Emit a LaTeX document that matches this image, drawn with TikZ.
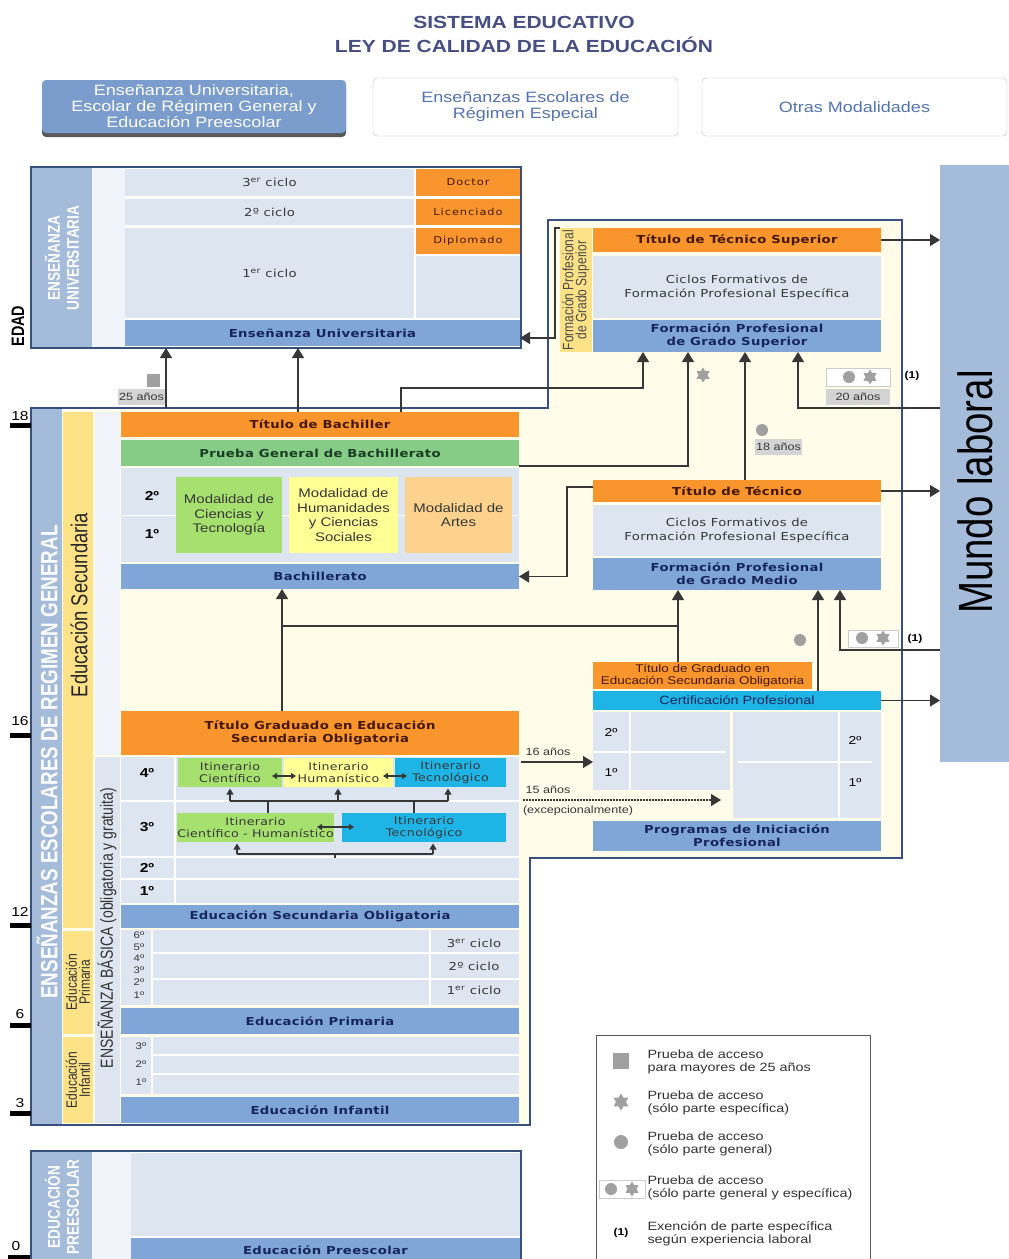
\documentclass[tikz,border=0pt]{standalone}
\usepackage{fontspec}
\setmainfont{Liberation Sans}
\newfontfamily\lsH{Liberation Sans}[FakeStretch=1.2]
\newfontfamily\lsV{Liberation Sans}[FakeStretch=0.8]
\newfontfamily\dvH{DejaVu Sans}[FakeStretch=1.2,LetterSpace=3]
\newfontfamily\dvW{DejaVu Sans}[FakeStretch=1.2,LetterSpace=10]
\usetikzlibrary{arrows.meta,shapes.geometric}

\definecolor{orng}{RGB}{248,150,45}
\definecolor{barb}{RGB}{128,166,216}
\definecolor{pnl}{RGB}{221,230,240}
\definecolor{strp}{RGB}{165,187,218}
\definecolor{yel}{RGB}{253,226,135}
\definecolor{crm}{RGB}{255,252,234}
\definecolor{grnA}{RGB}{134,204,134}
\definecolor{grnB}{RGB}{166,224,110}
\definecolor{yelB}{RGB}{255,255,150}
\definecolor{orB}{RGB}{252,210,140}
\definecolor{cyn}{RGB}{30,180,230}
\definecolor{nvy}{RGB}{22,38,90}
\definecolor{bord}{RGB}{55,80,125}
\definecolor{arr}{RGB}{55,55,55}
\definecolor{mk}{RGB}{160,160,160}
\definecolor{lite}{RGB}{240,244,250}
\definecolor{tabb}{RGB}{122,157,205}
\definecolor{tabtxt}{RGB}{85,115,175}
\definecolor{ttl}{RGB}{70,78,130}
\definecolor{brn}{RGB}{70,22,0}
\definecolor{grntxt}{RGB}{25,60,35}
\definecolor{gtx}{RGB}{55,55,55}

\newcommand\tkTitle{\lsH\bfseries\fontsize{17.5}{24}\selectfont}
\newcommand\tkTab{\lsH\fontsize{15}{16}\selectfont}
\newcommand\tkBar{\dvH\bfseries\fontsize{11}{13}\selectfont}
\newcommand\tkPan{\dvH\fontsize{11}{14}\selectfont}
\newcommand\tkCell{\dvW\fontsize{9.5}{11}\selectfont}
\newcommand\tkMod{\lsH\fontsize{12.5}{14.5}\selectfont}
\newcommand\tkIti{\dvH\fontsize{10.5}{11.5}\selectfont}
\newcommand\tkNum{\lsH\bfseries\fontsize{13}{15}\selectfont}
\newcommand\tkNumR{\lsH\fontsize{11.5}{13}\selectfont}
\newcommand\tkTiny{\lsH\fontsize{9.5}{10}\selectfont}
\newcommand\tkSm{\lsH\fontsize{10.5}{12}\selectfont}
\newcommand\tkGr{\lsH\fontsize{11.2}{12.5}\selectfont}
\newcommand\tkCp{\lsH\fontsize{12}{13}\selectfont}
\newcommand\tkLeg{\lsH\fontsize{12}{13}\selectfont}
\newcommand\tkAge{\lsH\fontsize{13}{14}\selectfont}
\newcommand\tkOne{\lsH\bfseries\fontsize{10}{11}\selectfont}
\newcommand\tkVgen{\lsV\bfseries\fontsize{23.5}{26}\selectfont}
\newcommand\tkVsec{\lsV\fontsize{23}{24}\selectfont}
\newcommand\tkVcap{\lsV\bfseries\fontsize{17}{19}\selectfont}
\newcommand\tkVsm{\lsV\fontsize{15}{13}\selectfont}
\newcommand\tkVbas{\lsV\fontsize{17.5}{18}\selectfont}
\newcommand\tkVml{\lsV\fontsize{48}{50}\selectfont}
\newcommand\tkVedad{\lsV\bfseries\fontsize{18}{18}\selectfont}
\newcommand\tkVfp{\lsV\fontsize{15}{13}\selectfont}

\newcommand{\mybox}[7]{\node[#2,inner sep=0pt,outer sep=0pt,minimum width={(#5-#3)*1pt},minimum height={(#6-#4)*1pt}] (#1) at ({(#3+#5)/2},{(#4+#6)/2}) {#7};}

\tikzset{
  bar/.style={fill=barb,text=nvy,font=\tkBar,align=center},
  ttlbox/.style={fill=orng,text=brn,font=\tkBar,align=center},
  pan/.style={fill=pnl,text=gtx,font=\tkPan,align=center},
  cell/.style={fill=orng,text=brn,font=\tkCell},
  modbox/.style={text=gtx,font=\tkMod,align=center},
  itibox/.style={text=gtx,font=\tkIti,align=center},
  con/.style={draw=arr,line width=1.2pt,-{Triangle[length=10pt,width=12pt]}},
  lin/.style={draw=arr,line width=1.2pt},
  sml/.style={draw=arr,line width=1.1pt,-{Triangle[length=6pt,width=7pt]},shorten >=1.5pt},
  dbl/.style={draw=arr,line width=1.1pt,{Triangle[length=5pt,width=6pt]}-{Triangle[length=5pt,width=6pt]}},
  stm/.style={star,star points=6,star point ratio=1.7,fill=mk,minimum size=15pt,inner sep=0pt},
  mdot/.style={circle,fill=mk,minimum size=12pt,inner sep=0pt},
  lbl/.style={font=\tkSm,text=gtx},
  legt/.style={anchor=west,align=left,font=\tkLeg,text=black!80},
  vtxt/.style={rotate=90,align=center},
  sep/.style={white,line width=1.5pt}
}

\begin{document}
\begin{tikzpicture}[x=1pt,y=-1pt]
\path[use as bounding box] (0,0) rectangle (1009,1259);
\fill[white] (0,0) rectangle (1009,1259);

% title
\node[font=\tkTitle,text=ttl,align=center] (title) at (524,34) {SISTEMA EDUCATIVO\\LEY DE CALIDAD DE LA EDUCACIÓN};

% tabs
\fill[black!65,rounded corners=4pt] (42,84) rectangle (346,137);
\mybox{tabA}{fill=tabb,rounded corners=4pt,text=white,font=\tkTab,align=center}{42}{80}{346}{133}{Enseñanza Universitaria,\\Escolar de Régimen General y\\Educación Preescolar}
\mybox{tabB}{draw=black!25,fill=white,rounded corners=4pt,text=tabtxt,font=\tkTab,align=center}{373}{78}{678}{136}{Enseñanzas Escolares de\\Régimen Especial}
\mybox{tabC}{draw=black!25,fill=white,rounded corners=4pt,text=tabtxt,font=\tkTab,align=center}{702}{78}{1007}{136}{Otras Modalidades}

% university
\mybox{uni}{draw=bord,line width=1.2pt,fill=white}{31}{167}{521}{348}{}
\fill[strp] (32,168) rectangle (92,347);
\fill[lite] (92,168) rectangle (125,347);
\node[vtxt,text=white,font=\tkVcap] (unil) at (62,258) {ENSEÑANZA\\UNIVERSITARIA};
\node[vtxt,font=\tkVedad] (edad) at (18,326) {EDAD};
\mybox{u3}{pan}{125}{169}{414}{196}{3\textsuperscript{er} ciclo}
\mybox{doc}{cell}{416}{169}{520}{196}{Doctor}
\mybox{u2}{pan}{125}{199}{414}{225}{2º ciclo}
\mybox{lic}{cell}{416}{199}{520}{225}{Licenciado}
\mybox{u1}{pan}{125}{228}{414}{318}{1\textsuperscript{er} ciclo}
\mybox{dip}{cell}{416}{228}{520}{254}{Diplomado}
\mybox{ue}{pan}{416}{256}{520}{318}{}
\mybox{eu}{bar}{125}{320}{520}{346}{Enseñanza Universitaria}

% mundo laboral
\mybox{ml}{fill=strp}{940}{165}{1009}{762}{}
\node[vtxt,font=\tkVml] (mlt) at (975,492) {Mundo laboral};

% general region
\draw[bord,line width=1.2pt,fill=crm] (31,408) -- (548,408) -- (548,220) -- (902,220) -- (902,858) -- (530,858) -- (530,1125) -- (31,1125) -- cycle;
\fill[strp] (32,409) rectangle (62,1124);
\fill[yel] (63,412) rectangle (93,928);
\fill[yel] (63,931) rectangle (93,1034);
\fill[yel] (63,1037) rectangle (93,1123);
\fill[lite] (95,412) rectangle (120,755);
\fill[pnl] (95,757) rectangle (120,1123);
\node[vtxt,text=white,font=\tkVgen] (lgen) at (47,762) {ENSEÑANZAS ESCOLARES DE  REGIMEN GENERAL};
\node[vtxt,text=black!85,font=\tkVsec] (lsec) at (79,605) {Educación Secundaria};
\node[vtxt,text=black!80,font=\tkVsm] (lpri) at (78,982) {Educación\\Primaria};
\node[vtxt,text=black!80,font=\tkVsm] (linf) at (78,1080) {Educación\\Infantil};
\node[vtxt,text=black!80,font=\tkVbas] (lbas) at (107,928) {ENSEÑANZA BÁSICA  (obligatoria y gratuita)};

% bachillerato
\mybox{tbach}{ttlbox}{121}{412}{519}{437}{Título de Bachiller}
\mybox{pgb}{bar,fill=grnA,text=grntxt}{121}{440}{519}{466}{Prueba General de Bachillerato}
\mybox{modp}{fill=pnl}{121}{468}{519}{562}{}
\draw[sep,line width=0.8pt] (modp.west) -- (modp.east);
\node[font=\tkNum] (b2) at (152,496) {2º};
\node[font=\tkNum] (b1) at (152,534) {1º};
\mybox{mct}{modbox,fill=grnB}{176}{477}{282}{553}{Modalidad de\\Ciencias y\\Tecnología}
\mybox{mhc}{modbox,fill=yelB}{289}{477}{398}{553}{Modalidad de\\Humanidades\\y Ciencias\\Sociales}
\mybox{mar}{modbox,fill=orB}{405}{477}{512}{553}{Modalidad de\\Artes}
\mybox{bach}{bar}{121}{564}{519}{589}{Bachillerato}

% ESO
\mybox{tgeso}{ttlbox}{121}{711}{519}{755}{Título Graduado en Educación\\Secundaria Obligatoria}
\mybox{esop}{fill=pnl}{121}{757}{519}{903}{}
\draw[sep] (121,801) -- (519,801);
\draw[sep] (121,857) -- (519,857);
\draw[sep] (121,879) -- (519,879);
\draw[sep] (175,757) -- (175,903);
\node[font=\tkNum] (e4) at (147,773) {4º};
\node[font=\tkNum] (e3) at (147,827) {3º};
\node[font=\tkNum] (e2) at (147,868) {2º};
\node[font=\tkNum] (e1) at (147,891) {1º};
\mybox{ic}{itibox,fill=grnB}{178}{758}{282}{787}{Itinerario\\Científico}
\mybox{ih}{itibox,fill=yelB}{284}{758}{393}{787}{Itinerario\\Humanístico}
\mybox{it}{itibox,fill=cyn}{395}{758}{506}{787}{Itinerario\\Tecnológico}
\mybox{ich}{itibox,fill=grnB}{178}{813}{333}{842}{Itinerario\\Científico - Humanístico}
\mybox{itec}{itibox,fill=cyn}{342}{813}{506}{842}{Itinerario\\Tecnológico}
\mybox{eso}{bar}{121}{905}{519}{928}{Educación Secundaria Obligatoria}

% itinerary arrows
\coordinate (da1) at (272,776); \coordinate (da2) at (296,776);
\coordinate (da3) at (383,776); \coordinate (da4) at (407,776);
\coordinate (da5) at (317,827); \coordinate (da6) at (354,827);
\draw[dbl] (da1) -- (da2);
\draw[dbl] (da3) -- (da4);
\draw[dbl] (da5) -- (da6);
\coordinate (q1) at (230,801); \coordinate (q2) at (338,801); \coordinate (q3) at (448,801);
\draw[lin,line width=1.1pt] (q1) -- (q3);
\draw[sml] (q1) -- (q1 |- ic.south);
\draw[sml] (q2) -- (q2 |- ih.south);
\draw[sml] (q3) -- (q3 |- it.south);
\coordinate (t1) at (268,801); \coordinate (t2) at (414,801);
\draw[lin,line width=1.1pt] (t1) -- (t1 |- ich.north);
\draw[lin,line width=1.1pt] (t2) -- (t2 |- itec.north);
\coordinate (q4) at (237,854); \coordinate (q5) at (433,854); \coordinate (q6) at (335,854);
\draw[lin,line width=1.1pt] (q4) -- (q5);
\draw[lin,line width=1.1pt] (q6) -- ++(0,4);
\draw[sml] (q4) -- (q4 |- ich.south);
\draw[sml] (q5) -- (q5 |- itec.south);

% primaria
\mybox{prp}{fill=pnl}{121}{930}{519}{1005}{}
\draw[sep] (152,930) -- (152,1005);
\draw[sep] (430,930) -- (430,1005);
\draw[sep] (152,953) -- (519,953);
\draw[sep] (152,979) -- (519,979);
\node[font=\tkTiny,text=gtx] (p6) at (139,935) {6º};
\node[font=\tkTiny,text=gtx] (p5) at (139,947) {5º};
\node[font=\tkTiny,text=gtx] (p4) at (139,958) {4º};
\node[font=\tkTiny,text=gtx] (p3) at (139,970) {3º};
\node[font=\tkTiny,text=gtx] (p2) at (139,982) {2º};
\node[font=\tkTiny,text=gtx] (p1) at (139,995) {1º};
\node[font=\tkPan,text=gtx] (c3) at (474,943) {3\textsuperscript{er} ciclo};
\node[font=\tkPan,text=gtx] (c2) at (474,966) {2º ciclo};
\node[font=\tkPan,text=gtx] (c1) at (474,990) {1\textsuperscript{er} ciclo};
\mybox{prim}{bar}{121}{1008}{519}{1034}{Educación Primaria}

% infantil
\mybox{inp}{fill=pnl}{121}{1037}{519}{1094}{}
\draw[sep] (152,1037) -- (152,1094);
\draw[sep] (152,1055) -- (519,1055);
\draw[sep] (152,1074) -- (519,1074);
\node[font=\tkTiny,text=gtx] (i3) at (141,1046) {3º};
\node[font=\tkTiny,text=gtx] (i2) at (141,1064) {2º};
\node[font=\tkTiny,text=gtx] (i1) at (141,1082) {1º};
\mybox{inf}{bar}{121}{1097}{519}{1123}{Educación Infantil}

% FP superior
\mybox{fpsl}{fill=yel}{560}{228}{592}{352}{}
\node[vtxt,text=black!70,font=\tkVfp] (fpslt) at (576,290) {Formación Profesional\\de Grado Superior};
\mybox{tts}{ttlbox}{593}{228}{881}{252}{Título de Técnico Superior}
\mybox{cfs}{pan}{593}{256}{881}{318}{Ciclos Formativos de\\Formación Profesional Específica}
\mybox{fpgs}{bar}{593}{320}{881}{352}{Formación Profesional\\de Grado Superior}

% FP medio
\mybox{tt}{ttlbox}{593}{480}{881}{502}{Título de Técnico}
\mybox{cfm}{pan}{593}{505}{881}{556}{Ciclos Formativos de\\Formación Profesional Específica}
\mybox{fpgm}{bar}{593}{558}{881}{590}{Formación Profesional\\de Grado Medio}

% PIP
\mybox{tgs}{fill=orng,text=brn,font=\tkGr,align=center}{593}{662}{812}{689}{Título de Graduado en\\Educación Secundaria Obligatoria}
\mybox{cp}{fill=cyn,text=nvy,font=\tkCp}{593}{691}{881}{710}{Certificación Profesional}
\mybox{pipL}{fill=pnl}{593}{712}{730}{790}{}
\mybox{pipR}{fill=pnl}{733}{712}{881}{818}{}
\draw[sep] (630,712) -- (630,790);
\draw[sep] (593,752) -- (725,752);
\draw[sep] (839,712) -- (839,818);
\draw[sep] (738,762) -- (872,762);
\node[font=\tkNumR] (k2) at (611,732) {2º};
\node[font=\tkNumR] (k1) at (611,772) {1º};
\node[font=\tkNumR] (k4) at (855,740) {2º};
\node[font=\tkNumR] (k3) at (855,782) {1º};
\mybox{pip}{bar}{593}{821}{881}{851}{Programas de Iniciación\\Profesional}

% markers
\node[fill=mk,minimum size=13pt,inner sep=0pt] (sq1) at (153,380) {};
\mybox{a25}{fill=black!17,font=\tkSm,text=gtx}{118}{389}{165}{405}{25 años}
\node[stm] (s1) at (703,375) {};
\mybox{mb1}{fill=white,draw=black!20}{826}{368}{890}{386}{}
\node[mdot] (d1) at (849,377) {};
\node[stm] (s2) at (870,377) {};
\mybox{a20}{fill=black!17,font=\tkSm,text=gtx}{826}{389}{890}{405}{20 años}
\node[font=\tkOne] (r1) at (912,376) {(1)};
\node[mdot] (d2) at (762,430) {};
\mybox{a18}{fill=black!17,font=\tkSm,text=gtx}{755}{439}{802}{455}{18 años}
\node[mdot] (d3) at (800,640) {};
\mybox{mb2}{fill=white,draw=black!20}{848}{630}{898}{647}{}
\node[mdot] (d4) at (862,638) {};
\node[stm] (s3) at (883,638) {};
\node[font=\tkOne] (r2) at (915,639) {(1)};

% connectors
\draw[con] (tts.east) -- (tts.east -| ml.west);
\draw[con] (tt.east) -- (tt.east -| ml.west);
\draw[con] (cp.east) -- (cp.east -| ml.west);
\coordinate (w1) at (555,228); \coordinate (w2) at (555,338);
\draw[con] (fpsl.north west) -- (w1) -- (w2) -- (w2 -| eu.east);
\coordinate (g25) at (166,408);
\draw[con] (g25) -- (g25 |- uni.south);
\coordinate (gb) at (298,412);
\draw[con] (gb) -- (gb |- uni.south);
\coordinate (h1) at (401,412); \coordinate (h2) at (643,388);
\draw[con] (h1) |- (h2) -- (h2 |- fpgs.south);
\coordinate (h3) at (688,466);
\draw[con] (pgb.south east) -- (h3) -- (h3 |- fpgs.south);
\coordinate (h4) at (745,480);
\draw[con] (h4) -- (h4 |- fpgs.south);
\coordinate (h5) at (798,408);
\draw[con] (h5 -| ml.west) -- (h5) -- (h5 |- fpgs.south);
\coordinate (h6) at (567,487);
\draw[con] (h6 -| tt.west) -- (h6) |- (bach.east);
\coordinate (h7) at (282,711);
\draw[con] (h7) -- (h7 |- bach.south);
\coordinate (h8) at (282,626); \coordinate (h9) at (678,626);
\draw[lin] (h8) -- (h9);
\draw[con] (tgs.north -| h9) -- (h9 |- fpgm.south);
\coordinate (h10) at (818,691);
\draw[con] (h10) -- (h10 |- fpgm.south);
\coordinate (h11) at (840,650);
\draw[con] (h11 -| ml.west) -- (h11) -- (h11 |- fpgm.south);
\coordinate (h12) at (521,762);
\draw[con] (h12) -- (h12 -| pipL.west);
\node[lbl] (y16) at (548,752) {16 años};
\coordinate (h13) at (523,800); \coordinate (h14) at (721,800);
\draw[con,dash pattern=on 1.5pt off 1.5pt] (h13) -- (h14);
\node[lbl] (y15) at (548,790) {15 años};
\node[lbl] (yex) at (578,811) {(excepcionalmente)};

% age marks
\fill[black] (10,423) rectangle (31,428);
\fill[black] (10,733) rectangle (31,738);
\fill[black] (10,923) rectangle (31,928);
\fill[black] (10,1023) rectangle (31,1028);
\fill[black] (10,1111) rectangle (31,1116);
\fill[black] (8,1255) rectangle (31,1260);
\node[font=\tkAge] (n18) at (20,416) {18};
\node[font=\tkAge] (n16) at (20,721) {16};
\node[font=\tkAge] (n12) at (20,912) {12};
\node[font=\tkAge] (n6) at (20,1014) {6};
\node[font=\tkAge] (n3) at (20,1103) {3};
\node[font=\tkAge] (n0) at (16,1246) {0};

% preescolar
\mybox{pre}{draw=bord,line width=1.2pt,fill=white}{31}{1151}{521}{1275}{}
\fill[strp] (32,1152) rectangle (92,1274);
\fill[lite] (92,1152) rectangle (131,1274);
\node[vtxt,text=white,font=\tkVcap] (prel) at (62,1207) {EDUCACIÓN\\PREESCOLAR};
\mybox{prep}{fill=pnl}{131}{1153}{520}{1236}{}
\mybox{preb}{bar}{131}{1238}{520}{1262}{Educación Preescolar}

% legend
\mybox{leg}{draw=black!65,fill=white,line width=0.8pt}{596}{1035}{870}{1275}{}
\node[fill=mk,minimum size=16pt,inner sep=0pt] (lq) at (621,1061) {};
\node[legt] (lt1) at (644,1062) {Prueba de acceso\\para mayores de 25 años};
\node[stm,minimum size=17pt] (ls2) at (621,1102) {};
\node[legt] (lt2) at (644,1103) {Prueba de acceso\\(sólo parte específica)};
\node[mdot,minimum size=14pt] (ld3) at (621,1142) {};
\node[legt] (lt3) at (644,1144) {Prueba de acceso\\(sólo parte general)};
\mybox{lb4}{fill=white,draw=black!20}{599}{1180}{645}{1198}{}
\node[mdot] (ld4) at (611,1189) {};
\node[stm] (ls4) at (632,1189) {};
\node[legt] (lt4) at (644,1188) {Prueba de acceso\\(sólo parte general y específica)};
\node[font=\tkOne] (l5) at (621,1233) {(1)};
\node[legt] (lt5) at (644,1234) {Exención de parte específica\\según experiencia laboral};
\end{tikzpicture}
\end{document}
